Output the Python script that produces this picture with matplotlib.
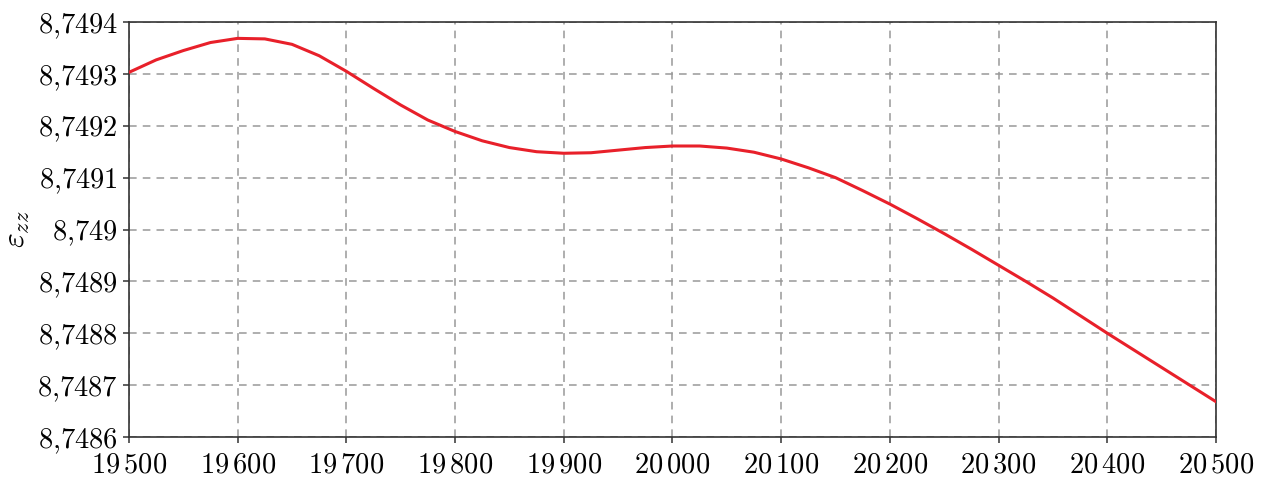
import numpy as np
import matplotlib
matplotlib.use("Agg")
import matplotlib.pyplot as plt

# values (step of 25)
x_vals = [19500, 19525, 19550, 19575, 19600, 19625, 19650, 19675, 19700,
          19725, 19750, 19775, 19800, 19825, 19850, 19875, 19900, 19925,
          19950, 19975, 20000, 20025, 20050, 20075, 20100, 20125, 20150,
          20175, 20200, 20225, 20250, 20275, 20300, 20325, 20350, 20375,
          20400, 20425, 20450, 20475, 20500]
eps_zz = [8.749303, 8.749327, 8.749345, 8.7493605, 8.7493685, 8.7493675,
          8.749357, 8.749335, 8.749305, 8.749272, 8.749240, 8.749211,
          8.749189, 8.749171, 8.749158, 8.749150, 8.749147, 8.749148,
          8.749153, 8.749158, 8.749161, 8.749161, 8.749157, 8.749149,
          8.749136, 8.749119, 8.749100, 8.749075, 8.749049, 8.749021,
          8.748992, 8.748962, 8.748931, 8.748900, 8.748868, 8.748834,
          8.748800, 8.748767, 8.748734, 8.748701, 8.748668]

x_ticks = [19500, 19600, 19700, 19800, 19900, 20000, 20100, 20200, 20300, 20400, 20500]
x_labels = [r"$19\,500$", r"$19\,600$", r"$19\,700$", r"$19\,800$", r"$19\,900$",
            r"$20\,000$", r"$20\,100$", r"$20\,200$", r"$20\,300$", r"$20\,400$",
            r"$20\,500$"]
y_ticks = [8.7486, 8.7487, 8.7488, 8.7489, 8.7490, 8.7491, 8.7492, 8.7493, 8.7494]
y_labels = [r"$8{,}7486$", r"$8{,}7487$", r"$8{,}7488$", r"$8{,}7489$", r"$8{,}749$",
            r"$8{,}7491$", r"$8{,}7492$", r"$8{,}7493$", r"$8{,}7494$"]

plt.rcParams["mathtext.fontset"] = "cm"

fig = plt.figure(figsize=(12.63, 4.79), dpi=100)
ax = fig.add_axes([0.1021, 0.0877, 0.8607, 0.8663])

ax.plot(x_vals, eps_zz, color="#e8202a", linewidth=2.2, zorder=3,
        solid_joinstyle="round")

ax.set_xlim(19500, 20500)
ax.set_ylim(8.7486, 8.7494)
ax.set_xticks(x_ticks)
ax.set_xticklabels(x_labels)
ax.set_yticks(y_ticks)
ax.set_yticklabels(y_labels)

ax.grid(True, color="#999999", linestyle=(0, (5, 4)), linewidth=1.1)
ax.tick_params(axis="both", direction="out", length=4, width=1.1,
               labelsize=20.5, color="#333333")
ax.tick_params(axis="x", pad=6)
ax.tick_params(axis="y", pad=4)
for s in ax.spines.values():
    s.set_color("#333333")
    s.set_linewidth(1.2)

ax.set_ylabel(r"$\varepsilon_{zz}$", fontsize=23, labelpad=4)

fig.savefig("out.png", dpi=100)
